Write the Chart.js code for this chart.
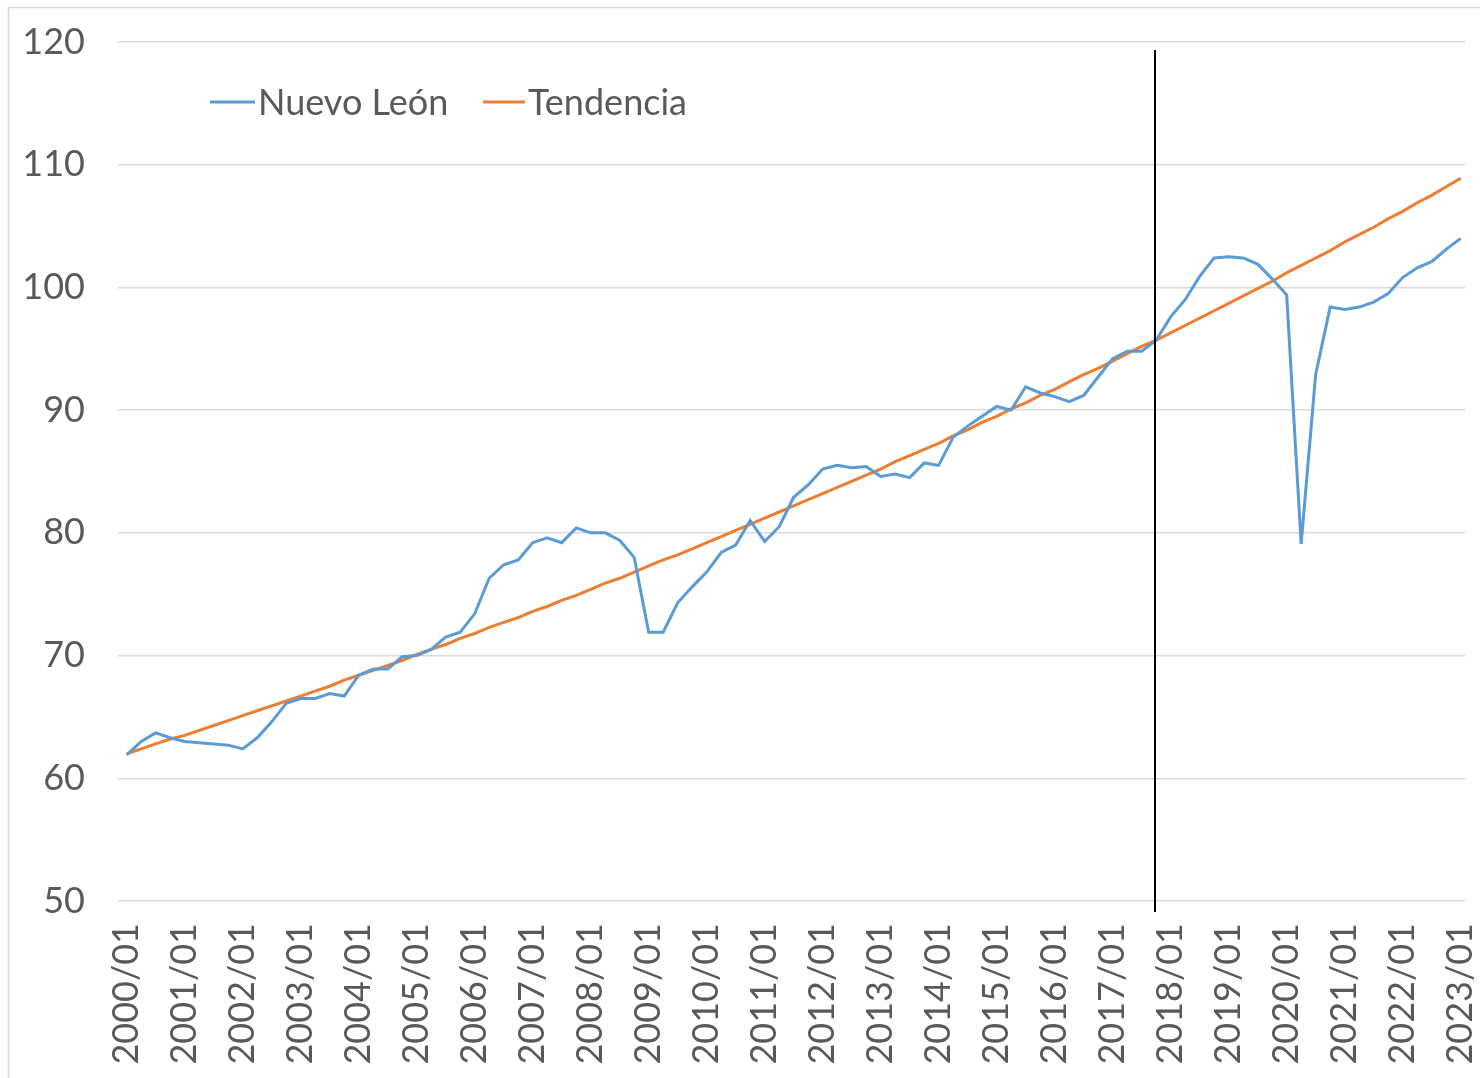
<!DOCTYPE html>
<html>
<head>
<meta charset="utf-8">
<script src="https://cdn.jsdelivr.net/npm/chart.js@4.4.1/dist/chart.umd.min.js"></script>
<style>
  html, body { margin: 0; padding: 0; background: #ffffff; overflow: hidden; }
  #wrap { position: relative; width: 1480px; height: 1078px; }
</style>
</head>
<body>
<div id="wrap"><canvas id="c" width="1480" height="1078"></canvas></div>
<script>
const categories = [
  '2000/01','2000/04','2000/07','2000/10',
  '2001/01','2001/04','2001/07','2001/10',
  '2002/01','2002/04','2002/07','2002/10',
  '2003/01','2003/04','2003/07','2003/10',
  '2004/01','2004/04','2004/07','2004/10',
  '2005/01','2005/04','2005/07','2005/10',
  '2006/01','2006/04','2006/07','2006/10',
  '2007/01','2007/04','2007/07','2007/10',
  '2008/01','2008/04','2008/07','2008/10',
  '2009/01','2009/04','2009/07','2009/10',
  '2010/01','2010/04','2010/07','2010/10',
  '2011/01','2011/04','2011/07','2011/10',
  '2012/01','2012/04','2012/07','2012/10',
  '2013/01','2013/04','2013/07','2013/10',
  '2014/01','2014/04','2014/07','2014/10',
  '2015/01','2015/04','2015/07','2015/10',
  '2016/01','2016/04','2016/07','2016/10',
  '2017/01','2017/04','2017/07','2017/10',
  '2018/01','2018/04','2018/07','2018/10',
  '2019/01','2019/04','2019/07','2019/10',
  '2020/01','2020/04','2020/07','2020/10',
  '2021/01','2021/04','2021/07','2021/10',
  '2022/01','2022/04','2022/07','2022/10',
  '2023/01'
];

const nuevoLeon = [
  61.9, 63.0, 63.7, 63.3,
  63.0, 62.9, 62.8, 62.7,
  62.4, 63.3, 64.6, 66.1,
  66.5, 66.5, 66.9, 66.7,
  68.4, 68.9, 68.9, 69.9,
  70.0, 70.5, 71.5, 71.9,
  73.4, 76.3, 77.4, 77.8,
  79.2, 79.6, 79.2, 80.4,
  80.0, 80.0, 79.4, 78.0,
  71.9, 71.9, 74.3, 75.6,
  76.8, 78.4, 79.0, 81.0,
  79.3, 80.5, 82.9, 83.9,
  85.2, 85.5, 85.3, 85.4,
  84.6, 84.8, 84.5, 85.7,
  85.5, 87.8, 88.7, 89.5,
  90.3, 90.0, 91.9, 91.4,
  91.1, 90.7, 91.2, 92.7,
  94.2, 94.8, 94.8, 95.7,
  97.6, 99.0, 100.9, 102.4,
  102.5, 102.4, 101.9, 100.7,
  99.4, 79.1, 92.9, 98.4,
  98.2, 98.4, 98.8, 99.5,
  100.8, 101.6, 102.1, 103.1,
  104.0
];

const tendencia = [
  62.0, 62.4, 62.8, 63.2,
  63.5, 63.9, 64.3, 64.7,
  65.1, 65.5, 65.9, 66.3,
  66.7, 67.1, 67.5, 68.0,
  68.4, 68.8, 69.2, 69.6,
  70.1, 70.5, 70.9, 71.4,
  71.8, 72.3, 72.7, 73.1,
  73.6, 74.0, 74.5, 74.9,
  75.4, 75.9, 76.3, 76.8,
  77.3, 77.8, 78.2, 78.7,
  79.2, 79.7, 80.2, 80.7,
  81.2, 81.7, 82.2, 82.7,
  83.2, 83.7, 84.2, 84.7,
  85.2, 85.8, 86.3, 86.8,
  87.3, 87.9, 88.4, 89.0,
  89.5, 90.1, 90.6, 91.2,
  91.7, 92.3, 92.9, 93.4,
  94.0, 94.6, 95.2, 95.7,
  96.3, 96.9, 97.5, 98.1,
  98.7, 99.3, 99.9, 100.5,
  101.2, 101.8, 102.4, 103.0,
  103.7, 104.3, 104.9, 105.6,
  106.2, 106.9, 107.5, 108.2,
  108.9
];

const seriesNames = ['Nuevo León', 'Tendencia'];
const yTicks = [50, 60, 70, 80, 90, 100, 110, 120];
const markerCategory = '2017/10';

const FONT = 'Lato, "Open Sans", "Liberation Sans", sans-serif';
const FONT_SIZE = 36;
const TEXT_COLOR = '#595959';

const toPoints = arr => arr.map((v, i) => ({ x: i, y: v }));

const framePlugin = {
  id: 'frame',
  beforeDraw(chart) {
    const ctx = chart.ctx;
    ctx.save();
    ctx.fillStyle = '#ffffff';
    ctx.fillRect(0, 0, chart.width, chart.height);
    ctx.strokeStyle = '#d9d9d9';
    ctx.lineWidth = 1.5;
    ctx.strokeRect(8.5, 7.5, chart.width + 20, chart.height + 20);
    ctx.restore();
  }
};

const markerPlugin = {
  id: 'marker',
  afterDatasetsDraw(chart) {
    const xs = chart.scales.x;
    const idx = categories.indexOf(markerCategory);
    const px = Math.round(xs.getPixelForValue(idx)) - 1;
    const ca = chart.chartArea;
    const ctx = chart.ctx;
    ctx.save();
    ctx.strokeStyle = '#000000';
    ctx.lineWidth = 2;
    ctx.beginPath();
    ctx.moveTo(px, ca.top + 8);
    ctx.lineTo(px, ca.bottom + 11);
    ctx.stroke();
    ctx.restore();
  }
};

const legendPlugin = {
  id: 'customLegend',
  afterDraw(chart) {
    const ctx = chart.ctx;
    const items = [
      { x0: 210, x1: 255, tx: 258 },
      { x0: 483, x1: 525, tx: 528 }
    ];
    const y = 102;
    ctx.save();
    ctx.font = FONT_SIZE + 'px ' + FONT;
    ctx.textBaseline = 'middle';
    ctx.textAlign = 'left';
    chart.data.datasets.forEach((ds, i) => {
      const it = items[i];
      ctx.strokeStyle = ds.borderColor;
      ctx.lineWidth = 3;
      ctx.beginPath();
      ctx.moveTo(it.x0, y);
      ctx.lineTo(it.x1, y);
      ctx.stroke();
      ctx.fillStyle = TEXT_COLOR;
      ctx.fillText(ds.label, it.tx, y + 1);
    });
    ctx.restore();
  }
};

Chart.defaults.font.family = FONT;
Chart.defaults.font.size = FONT_SIZE;
Chart.defaults.color = TEXT_COLOR;

new Chart(document.getElementById('c'), {
  type: 'line',
  data: {
    datasets: [
      {
        label: seriesNames[0],
        data: toPoints(nuevoLeon),
        borderColor: '#5B9BD5',
        backgroundColor: '#5B9BD5',
        borderWidth: 3,
        pointRadius: 0,
        tension: 0,
        fill: false
      },
      {
        label: seriesNames[1],
        data: toPoints(tendencia),
        borderColor: '#ED7D31',
        backgroundColor: '#ED7D31',
        borderWidth: 3,
        pointRadius: 0,
        tension: 0,
        fill: false
      }
    ]
  },
  options: {
    responsive: false,
    animation: false,
    devicePixelRatio: 1,
    layout: { padding: { left: 24, right: 15, top: 42, bottom: 0 } },
    plugins: {
      legend: { display: false },
      tooltip: { enabled: false }
    },
    scales: {
      x: {
        type: 'linear',
        min: -0.6,
        max: 92.3,
        afterBuildTicks(scale) {
          scale.ticks = categories
            .map((c, i) => ({ c, i }))
            .filter(o => o.c.endsWith('/01'))
            .map(o => ({ value: o.i }));
        },
        afterFit(scale) {
          scale.height = 177;
          scale.paddingLeft = 0;
          scale.paddingRight = 0;
          scale.paddingTop = 0;
          scale.paddingBottom = 0;
        },
        ticks: {
          autoSkip: false,
          minRotation: 90,
          maxRotation: 90,
          padding: 22,
          color: TEXT_COLOR,
          font: { size: FONT_SIZE, family: FONT },
          callback: v => categories[v]
        },
        grid: { display: false, drawTicks: false },
        border: { display: false }
      },
      y: {
        min: 50,
        max: 120,
        afterBuildTicks(scale) {
          scale.ticks = yTicks.map(v => ({ value: v }));
        },
        afterFit(scale) {
          scale.width = 94;
          scale.paddingTop = 0;
          scale.paddingBottom = 0;
          scale.paddingLeft = 0;
          scale.paddingRight = 0;
        },
        ticks: {
          padding: 33,
          color: TEXT_COLOR,
          font: { size: FONT_SIZE, family: FONT }
        },
        grid: { color: '#d9d9d9', lineWidth: 1.5, drawTicks: false },
        border: { display: false }
      }
    }
  },
  plugins: [framePlugin, markerPlugin, legendPlugin]
});
</script>
</body>
</html>
